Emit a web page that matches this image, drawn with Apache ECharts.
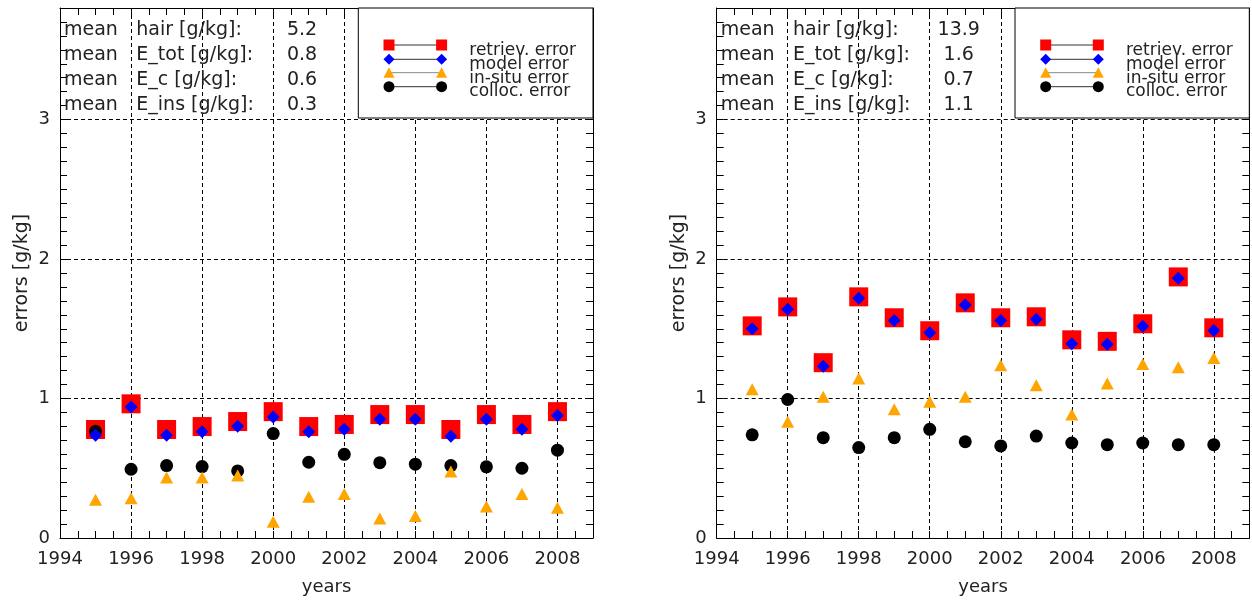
<!DOCTYPE html>
<html><head><meta charset="utf-8">
<script src="https://cdn.jsdelivr.net/npm/echarts@6/dist/echarts.min.js"></script>
<style>html,body{margin:0;padding:0;background:#fff}#c{width:1252px;height:601px}</style>
</head><body><div id="c"></div>
<script>
// ---------------- data ----------------
const years = [1995,1996,1997,1998,1999,2000,2001,2002,2003,2004,2005,2006,2007,2008];

const leftRetriev = [0.778,0.962,0.778,0.799,0.835,0.906,0.799,0.814,0.885,0.885,0.778,0.885,0.814,0.906];
const leftModel   = [0.737,0.939,0.737,0.761,0.802,0.868,0.761,0.780,0.851,0.851,0.730,0.851,0.780,0.879];
const leftInsitu  = [0.275,0.285,0.434,0.434,0.448,0.117,0.296,0.316,0.140,0.157,0.476,0.226,0.316,0.216];
const leftColloc  = [0.765,0.493,0.519,0.512,0.481,0.749,0.543,0.600,0.540,0.529,0.519,0.510,0.500,0.630];

const rightRetriev = [1.521,1.657,1.257,1.729,1.579,1.486,1.686,1.579,1.586,1.421,1.410,1.536,1.872,1.507];
const rightModel   = [1.500,1.640,1.231,1.719,1.560,1.471,1.671,1.560,1.569,1.393,1.390,1.519,1.862,1.488];
const rightInsitu  = [1.067,0.833,1.012,1.143,0.924,0.976,1.012,1.238,1.095,0.886,1.107,1.248,1.224,1.290];
const rightColloc  = [0.740,0.993,0.719,0.648,0.719,0.779,0.690,0.660,0.731,0.681,0.669,0.681,0.669,0.669];

const statWord  = 'mean';
const statNames = ['hair [g/kg]:','E_tot [g/kg]:','E_c [g/kg]:','E_ins [g/kg]:'];
const leftStats  = ['5.2','0.8','0.6','0.3'];
const rightStats = ['13.9','1.6','0.7','1.1'];
const legendNames = ['retriev. error','model error','in-situ error','colloc. error'];

const xName = 'years';
const yName = 'errors [g/kg]';
const xMin = 1994, xMax = 2009, xStep = 2, xMinor = 0.5;
const yMin = 0, yMax = 3.8, yStep = 1, yMinor = 0.1;

// ---------------- layout / style ----------------
const FONT = '"DejaVu Sans", sans-serif';
const TXT = '#222';
const panels = [{left: 60, width: 533}, {left: 716.7, width: 532.6}];
const TOP = 8, HEIGHT = 532;
const colors = {retriev: '#ff0000', model: '#0000ff', insitu: '#ffa500', colloc: '#000000'};

const grids = [], xAxes = [], yAxes = [], series = [], graphics = [];
const dash = {type: [4, 3], color: '#000', width: 1};

panels.forEach((p, gi) => {
  grids.push({left: p.left, top: TOP, width: p.width, height: HEIGHT});
  const base = xAxes.length;
  // label x axis
  xAxes.push({
    gridIndex: gi, type: 'value', position: 'bottom', min: xMin, max: xMax, interval: xStep,
    axisLine: {show: true, onZero: false, lineStyle: {color: '#000', width: 1}},
    axisTick: {show: false},
    axisLabel: {show: true, fontSize: 18, fontFamily: FONT, color: TXT, margin: 12, showMaxLabel: false,
      formatter: v => (Math.abs(v - Math.round(v)) < 1e-6 && Math.round(v) % 2 === 0) ? String(Math.round(v)) : ''},
    splitLine: {show: true, showMaxLine: false, lineStyle: dash},
    name: xName, nameLocation: 'middle', nameGap: 40,
    nameTextStyle: {fontSize: 18, fontFamily: FONT, color: TXT}
  });
  ['bottom', 'top'].forEach(pos => xAxes.push({
    gridIndex: gi, type: 'value', position: pos, min: xMin, max: xMax, interval: xMinor,
    axisLine: {show: pos === 'top', onZero: false, lineStyle: {color: '#000', width: 1}},
    axisTick: {show: true, inside: true, length: 7, lineStyle: {color: '#000', width: 1}},
    axisLabel: {show: false}, splitLine: {show: false}
  }));
  const ybase = yAxes.length;
  yAxes.push({
    gridIndex: gi, type: 'value', position: 'left', min: yMin, max: yMax, interval: yStep,
    axisLine: {show: true, onZero: false, lineStyle: {color: '#000', width: 1}},
    axisTick: {show: false},
    axisLabel: {show: true, fontSize: 18, fontFamily: FONT, color: TXT, margin: 10, showMaxLabel: false,
      formatter: v => (Math.abs(v - Math.round(v)) < 1e-6) ? String(Math.round(v)) : ''},
    splitLine: {show: true, showMaxLine: false, lineStyle: dash},
    name: yName, nameLocation: 'middle', nameGap: 28, nameRotate: 90,
    nameTextStyle: {fontSize: 19, fontFamily: FONT, color: TXT}
  });
  ['left', 'right'].forEach(pos => yAxes.push({
    gridIndex: gi, type: 'value', position: pos, min: yMin, max: yMax, interval: yMinor,
    axisLine: {show: pos === 'right', onZero: false, lineStyle: {color: '#000', width: 1}},
    axisTick: {show: true, inside: true, length: 7, lineStyle: {color: '#000', width: 1}},
    axisLabel: {show: false}, splitLine: {show: false}
  }));

  const sets = gi === 0
    ? {retriev: leftRetriev, model: leftModel, insitu: leftInsitu, colloc: leftColloc}
    : {retriev: rightRetriev, model: rightModel, insitu: rightInsitu, colloc: rightColloc};
  const mk = (name, arr, symbol, size, color) => ({
    name, type: 'scatter', xAxisIndex: base, yAxisIndex: ybase,
    symbol, symbolSize: size, itemStyle: {color, opacity: 1},
    data: years.map((y, i) => [y, arr[i]]), silent: true
  });
  series.push(mk('retriev. error', sets.retriev, 'rect', 19, colors.retriev));
  series.push(mk('colloc. error', sets.colloc, 'circle', 13, colors.colloc));
  series.push(mk('in-situ error', sets.insitu, 'triangle', [13, 12], colors.insitu));
  series.push(mk('model error', sets.model, 'diamond', [13, 13], colors.model));

  // legend box
  const L = p.left, R = p.left + p.width;
  const bx = L + 298.3;
  graphics.push({type: 'rect', z: 10, shape: {x: bx, y: TOP, width: R - bx, height: 110},
    style: {fill: '#fff', stroke: '#000', lineWidth: 1}});
  const rowsY = [45, 59.3, 72.7, 86.7];
  const textY = [51, 64.5, 78.5, 92];
  const sx1 = L + 329, sx2 = L + 381.6;
  const keys = ['retriev', 'model', 'insitu', 'colloc'];
  keys.forEach((k, i) => {
    const y = rowsY[i];
    graphics.push({type: 'line', z: 11, shape: {x1: sx1, y1: y, x2: sx2, y2: y},
      style: {stroke: k === 'insitu' ? '#888' : '#333', lineWidth: 1}});
    [sx1, sx2].forEach(cx => {
      let g;
      if (k === 'retriev') g = {type: 'rect', shape: {x: cx - 5.5, y: y - 5.5, width: 11, height: 11}};
      else if (k === 'model') g = {type: 'polygon', shape: {points: [[cx, y - 5.5], [cx + 5.5, y], [cx, y + 5.5], [cx - 5.5, y]]}};
      else if (k === 'insitu') g = {type: 'polygon', shape: {points: [[cx, y - 5.5], [cx + 5.5, y + 5], [cx - 5.5, y + 5]]}};
      else g = {type: 'circle', shape: {cx, cy: y, r: 5.5}};
      g.z = 12; g.style = {fill: colors[k]};
      graphics.push(g);
    });
    graphics.push({type: 'text', z: 12, style: {text: legendNames[i], x: L + 409.3, y: textY[i],
      font: '17px ' + FONT, fill: TXT, align: 'left', verticalAlign: 'middle'}});
  });

  // stats text
  const stats = gi === 0 ? leftStats : rightStats;
  const ty = [30, 55, 80, 105];
  statNames.forEach((nm, i) => {
    graphics.push({type: 'text', z: 12, style: {text: statWord, x: L + 4, y: ty[i], font: '19px ' + FONT, fill: TXT, align: 'left', verticalAlign: 'middle'}});
    graphics.push({type: 'text', z: 12, style: {text: nm, x: L + 76.3, y: ty[i], font: '19px ' + FONT, fill: TXT, align: 'left', verticalAlign: 'middle'}});
    graphics.push({type: 'text', z: 12, style: {text: stats[i], x: L + 242, y: ty[i], font: '19px ' + FONT, fill: TXT, align: 'center', verticalAlign: 'middle'}});
  });
});

const chart = echarts.init(document.getElementById('c'), null, {renderer: 'canvas'});
chart.setOption({
  animation: false,
  backgroundColor: '#fff',
  grid: grids, xAxis: xAxes, yAxis: yAxes, series, graphic: graphics
});
</script>
</body></html>
